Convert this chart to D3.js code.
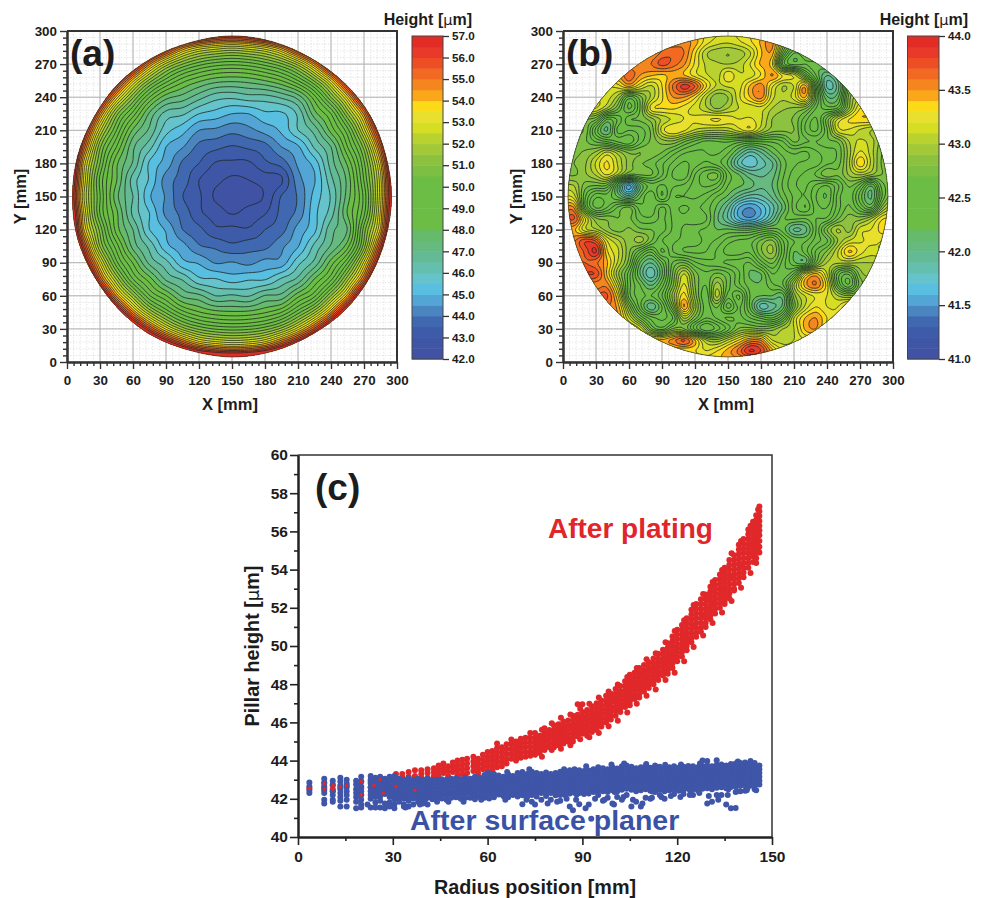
<!DOCTYPE html>
<html>
<head>
<meta charset="utf-8">
<script src="https://d3js.org/d3.v7.min.js"></script>
<style>
body { margin: 0; background: #fff; }
text { font-family: "Liberation Sans", Arial, sans-serif; font-weight: bold; fill: #1c1c1c; }
</style>
</head>
<body>
<main></main>
<script>
// colour bands shared by both maps, low to high
const bandColors = ["#3f52a3","#3f55a5","#3e5ba9","#3f68b1","#4a85c0","#52a5d4","#58bfe0","#64c3cb","#64bfae","#63ba94",
    "#66ba7f","#65ba6c","#6bbd45","#6bbd45","#6bbd45","#6bbd45","#6bbd45","#7cbf42","#8cc23f","#a3c93a",
    "#b9d22f","#d6de24","#e8e02c","#fbdb17","#fba71a","#f5861f","#f26a22","#ed4e24","#e8392a","#e42c26"];

const mapTicks = [0, 30, 60, 90, 120, 150, 180, 210, 240, 270, 300];
const barTicksA = [42, 43, 44, 45, 46, 47, 48, 49, 50, 51, 52, 53, 54, 55, 56, 57];
const barTicksB = [41, 41.5, 42, 42.5, 43, 43.5, 44];
const radiusTicks = [0, 30, 60, 90, 120, 150];
const pillarTicks = [40, 42, 44, 46, 48, 50, 52, 54, 56, 58, 60];

// wafer outline, radius in mm going round in equal angle steps
const rimA = [145,144.6,145.4,145,144.4,145,145.5,144.6,145,145.4,144.6,145,145,145.4,144.6,145,145.4,144.6,145.4,145,144.6,145.4,145,144.6];
const rimB = [145.4,145,145,145.4,145,144.7,145.4,145,145,144.7,145.4,145,145.4,145,145,145.4,144.7,145,145.4,145,145,144.7,145.4,145];

// height map (a), um, every 15 mm, rows from y=300 down to y=0
const heightsA = [
[70,70,70,70,69,65.9,62.9,60.6,59,58,57.7,58,59,60.6,62.9,65.9,69,70,70,70,70],
[70,70,70,67,63,59.7,57,54.6,53.4,52.9,52.6,52.9,53.4,54.6,57,59.7,63,67,70,70,70],
[70,70,67,62,58,54.6,52.3,51,50.2,49.75,49.6,49.75,50.2,50.9,52.2,54.5,58,62,67,70,70],
[70,68,62,57.3,53.7,51.3,49.75,48.7,48.1,47.7,47.6,47.7,48,48.5,49.5,51.1,53.5,57.3,62,68,70],
[70,63.5,58,53.8,51.1,49,47.7,47.3,46.7,46.2,46.1,46.3,46.3,46.6,47.2,48.8,51,53.7,58,63.5,70],
[66,60,54.8,51.2,49.3,47.4,46.3,46.1,45.5,45.3,45,45,45.4,45.4,46.1,47.8,49,51.5,54.6,60,66],
[63.5,57.3,52.6,50,47.9,46.9,45.7,45.2,44.5,44.4,44.15,44.35,44.7,45.1,46,46.7,48.2,49.8,52.8,57.3,63.5],
[61,55.4,51.1,49,47.1,46.2,45,44.55,43.85,43.65,43.45,43.6,43.8,44.5,44.9,46.1,47,49,51.2,55.3,61],
[59.7,53.9,50.5,48.1,46.95,45.4,44.8,43.9,43.5,42.95,42.9,42.9,43.4,43.7,44.6,45.2,46.75,48.1,50.4,53.9,59.7],
[58.8,53.5,49.85,48.05,46.25,45.45,44.25,43.8,43,42.65,42.4,42.5,42.7,42.9,44.3,44.95,46.35,47.65,50.05,53.3,58.8],
[58.5,53.1,50.05,47.65,46.5,45.05,44.45,43.5,43.1,42.4,42.3,42.3,42.55,43.55,44.05,45.2,46.05,47.75,49.65,53.3,58.5],
[59,53.6,49.95,48.15,46.35,45.5,44.35,43.85,43.1,42.8,42.45,42.7,42.95,43.65,44.15,45.35,46.25,48.05,49.85,53.6,59],
[60,54.1,50.85,48.25,47,45.5,44.95,44,43.65,43.1,43.15,43.05,43.5,43.8,44.7,45.35,46.85,47.5,50.75,54.1,60],
[61.5,55.9,51.45,49.25,47.3,46.35,45.15,44.7,44.05,43.9,43.6,43.8,43.85,44.4,44.95,46.15,47.05,48.3,51.25,55.9,61.5],
[64,57.9,53.35,50.15,48.45,46.85,46.2,45.15,44.95,44.45,44.55,44.35,44.7,44.7,45.85,46.65,48.25,49.95,53.15,57.9,64],
[67,60.8,55.4,51.95,49.5,48.25,46.9,46.45,45.6,45.55,45.25,45.45,45.45,46.1,46.65,48.05,49.35,51.85,55.25,60.8,67],
[70,64.7,59.1,54.4,51.7,49.55,48.55,47.4,47.15,46.5,46.6,46.45,47.05,47.15,48.35,49.35,51.55,54.25,59.1,64.7,70],
[70,69,63.5,58.5,54.6,52,50.4,49.2,48.55,48.2,48.1,48.15,48.45,49,50.3,51.9,54.5,58.5,63.5,69,70],
[70,70,68.5,63.5,59.2,55.8,53.4,51.8,50.9,50.45,50.3,50.4,50.8,51.7,53.3,55.7,59.1,63.5,68.5,70,70],
[70,70,70,69,65,61,58.3,56.2,54.6,54,53.7,53.9,54.5,56.1,58.2,61,65,69,70,70,70],
[70,70,70,70,70,67.7,64.7,62.3,60.7,59.7,59.5,59.7,60.7,62.3,64.7,67.7,70,70,70,70,70]
];

// height map (b), um, every 10 mm, rows from y=300 down to y=0
const heightsB = [
[43.31,43.31,43.31,43.31,43.31,43.31,43.31,43.31,43.31,43.31,43.42,43.45,43.35,43.25,43.22,43.2,43.22,43.28,43.35,43.45,43.1,42.8,42.7,42.6,42.6,42.6,42.6,42.6,42.6,42.6,42.6],
[43.52,43.52,43.52,43.52,43.52,43.52,43.52,43.52,43.52,43.52,43.52,43.55,43.45,43.25,43.15,43.12,43.18,43.28,43.42,43.55,43.02,42.72,42.62,42.6,42.6,42.6,42.6,42.6,42.6,42.6,42.6],
[43.5,43.5,43.5,43.5,43.5,43.5,43.5,43.5,43.5,43.62,43.68,43.6,43.32,43.02,42.93,42.9,42.94,43.08,43.38,43.46,42.75,42.3,42.42,42.6,42.6,42.6,42.6,42.6,42.6,42.6,42.6],
[43.5,43.5,43.5,43.5,43.5,43.5,43.5,43.55,43.6,43.74,43.65,43.52,43.28,43.08,43.02,43,43.04,43.2,43.42,43.32,42.45,42.26,42.3,42.25,42.4,42.6,42.6,42.6,42.6,42.6,42.6],
[43.5,43.5,43.5,43.5,43.5,43.5,43.68,43.5,43.42,43.38,43.44,43.4,43.24,43.12,43.05,43.28,43.12,43.14,43.3,43.52,43.28,43.15,42.72,42.3,42,42.25,42.8,43,43,43,43],
[43.2,43.2,43.2,43.2,43.2,43.25,43.42,43.22,43.08,43.3,43.62,43.85,43.7,43.32,43.08,43.12,43.15,43.42,43.56,43.22,43,43.1,43.48,42.6,41.88,42.05,42.7,43.05,43.2,43.2,43.2],
[43.2,43.2,43.2,43.2,43.15,42.95,42.55,42.75,43.02,43.28,43.5,43.5,43.32,43.02,42.82,42.9,43.18,43.4,43.55,43.15,43.02,43.15,43.42,42.68,42.12,42.18,42.85,43.12,43.2,43.2,43.2],
[43.2,43.2,43.2,43.2,43,42.72,42.38,42.7,43.25,43.3,43.32,43.25,43.15,43.02,42.88,43,43.1,43.12,43.15,43,42.92,42.88,42.82,42.5,42.35,42.42,42.9,43.3,43.3,43.3,43.3],
[42.8,42.8,42.8,42.72,42.3,42.42,42.68,42.72,42.85,43.02,43.12,43.2,43.22,43.28,43.32,43.25,43.2,43.22,43.12,42.9,42.82,42.78,42.55,42.38,42.75,43.12,43.3,43.38,43.38,43.3,43.3],
[42.8,42.8,42.78,42.35,42.08,42.55,42.5,42.55,42.72,43.15,43.3,43.22,43.08,43.02,43,43.02,43.15,43.25,43.02,42.85,42.82,42.8,42.5,42.38,42.68,43.15,43.18,43.08,43,42.9,42.9],
[42.8,42.8,42.72,42.58,42.48,42.38,42.32,42.55,42.72,42.85,42.88,42.72,42.58,42.48,42.5,42.52,42.45,42.4,42.42,42.42,42.5,42.72,42.62,42.6,42.68,42.72,43,43.12,43.05,42.85,42.8],
[42.8,42.78,42.82,42.92,43.12,42.95,42.78,42.8,42.78,42.7,42.55,42.42,42.38,42.4,42.42,42.32,42.08,41.88,42,42.2,42.35,42.42,42.38,42.48,42.55,42.62,42.95,43.22,43.05,42.8,42.78],
[42.75,42.8,42.88,43.12,43.32,43.08,42.85,42.72,42.65,42.52,42.38,42.28,42.35,42.42,42.35,42.18,41.85,41.72,41.85,41.98,42.25,42.38,42.42,42.45,42.58,42.65,42.98,43.38,43.08,42.78,42.75],
[42.8,42.78,42.88,43.02,43.22,43,42.7,42.72,42.72,42.52,42.28,42.22,42.5,42.68,42.72,42.35,42.2,42.02,41.98,42.05,42.28,42.45,42.52,42.62,42.78,42.72,42.92,43.02,42.92,42.8,42.78],
[43.02,43,42.75,42.7,42.68,42.1,41.55,42.1,42.35,42.28,42.38,42.42,42.55,42.62,42.55,42.3,42.22,42.15,42.02,42.1,42.32,42.48,42.52,42.38,42.3,42.48,42.72,42.55,42.2,42.65,42.75],
[43.22,43.15,42.62,42.32,42.35,42.18,41.95,42.28,42.5,42.2,42.48,42.5,42.52,42.45,42.3,42.18,41.98,41.85,41.88,42.02,42.25,42.42,42.5,42.3,42.2,42.55,42.68,42.35,42.08,42.6,42.9],
[43.5,43.5,42.65,42.28,42.4,42.62,42.72,42.45,42.42,42.62,42.45,42.38,42.42,42.35,42.18,41.95,41.6,41.5,41.62,41.85,42.12,42.45,42.6,42.35,42.3,42.55,42.72,42.5,42.3,42.85,43.12],
[43.62,43.72,43.22,42.82,42.78,42.7,42.72,42.55,42.52,42.62,42.48,42.42,42.5,42.42,42.12,41.9,41.62,41.52,41.68,41.95,42.28,42.32,42.3,42.4,42.42,42.68,42.85,42.85,43,43.28,43.32],
[43.4,43.42,43.12,43.02,42.85,42.75,42.82,42.72,42.7,42.65,42.48,42.38,42.32,42.28,42.2,42.22,42.18,42.18,42.28,42.35,42.25,41.98,42.05,42.4,42.8,43.02,42.85,43.15,43.2,43.35,43.42],
[43.5,43.58,43.78,43.68,43.2,43.02,42.85,42.95,42.72,42.5,42.42,42.38,42.35,42.28,42.32,42.45,42.52,42.55,42.72,42.82,42.5,42.3,42.28,42.45,42.58,42.9,43.1,43.18,43.22,43.2,43.2],
[43.6,43.6,43.72,43.92,43.32,43.12,42.82,42.52,42.3,42.62,42.4,42.3,42.28,42.3,42.42,42.55,42.55,42.52,42.78,42.92,42.55,42.2,42.35,42.62,42.82,43.1,43.42,43.25,43.15,43.2,43.2],
[43.7,43.7,43.7,43.62,43.42,43.08,42.75,42.2,42,42.28,42.62,42.7,42.52,42.45,42.42,42.38,42.35,42.3,42.55,42.72,42.45,42.22,42.15,42.7,43,43.02,43.02,43,43,43,43],
[43.8,43.8,43.8,43.78,43.38,42.92,42.55,42.1,41.82,42.18,42.72,43.1,42.75,42.62,42.72,42.62,42.42,42.18,42.2,42.5,42.42,42.62,43.2,43.42,43.1,42.55,42.42,42.85,42.95,43,43],
[43.6,43.6,43.6,43.55,43.55,43.1,42.55,42.3,42.08,42.35,42.78,43.22,42.8,42.6,42.95,42.65,42.42,42.25,42.22,42.38,42.5,43,43.45,43.6,43.25,42.6,42.3,42.75,42.85,42.9,42.9],
[43.7,43.7,43.7,43.7,43.72,43.3,42.55,42.35,42.3,42.5,42.95,43.35,42.85,42.52,43.05,42.55,42.72,42.3,42.2,42.2,42.15,42.85,43.1,43.22,43.2,43,42.9,43,43.2,43.2,43.2],
[43.6,43.6,43.6,43.6,43.6,43.45,42.85,42.35,42.02,42.3,42.8,43.5,42.95,42.55,42.72,42.35,42.62,42.28,41.85,41.95,42.15,42.75,43.12,43.3,43.2,43.2,43.42,43.35,43.3,43.3,43.3],
[43.5,43.5,43.5,43.5,43.5,43.5,43.1,42.7,42.45,42.38,42.5,43.02,42.75,42.5,42.62,42.72,42.65,42.5,42.38,42.3,42.55,43.1,43.4,43.5,43.3,43.22,43.3,43.3,43.3,43.3,43.3],
[43.4,43.4,43.4,43.4,43.4,43.4,43.4,43.2,42.72,42.55,42.82,42.8,42.45,42.2,42.35,42.55,42.82,42.85,42.8,42.85,43,43.1,43.42,43.5,43.25,43.2,43.2,43.2,43.2,43.2,43.2],
[43.4,43.4,43.4,43.4,43.4,43.4,43.4,43.4,43.4,43.42,43.55,43.72,43.4,43,42.92,43.1,43.3,43.5,43.48,43.1,43.05,43.1,43.2,43.2,43.2,43.2,43.2,43.2,43.2,43.2,43.2],
[43.3,43.3,43.3,43.3,43.3,43.3,43.3,43.3,43.3,43.3,43.3,43.3,43.3,43.2,43.3,43.45,43.65,43.92,43.8,43.45,43.2,43.2,43.2,43.2,43.2,43.2,43.2,43.2,43.2,43.2,43.2],
[43.4,43.4,43.4,43.4,43.4,43.4,43.4,43.4,43.4,43.4,43.4,43.4,43.4,43.4,43.4,43.4,43.4,43.4,43.4,43.4,43.4,43.4,43.4,43.4,43.4,43.4,43.4,43.4,43.4,43.4,43.4]
];

// pillars after plating: each row is radius (mm) then the heights (um) read at that radius
const platedPillars = [
[3.6,42.55],[8.3,42.8,42.55],[11,42.7,42.5,42.4],[13.4,42.6],[15.4,42.7],[20,42.9,42.55,42.2],[23,42.9,42.6],[26,43,42.75,42.3],[28,42.9,42.4],
[31,43.3,43.05,42.7],[33,43.3,43.1,42.5],[35,43.4,43.15,42.8],[37,43.5,43.2,42.45],[39,43.5,43.3,43.1],[41,43.55,43.35,43.1],
[43,43.6,43.4,43.2],[44.5,43.75,43.5,43.25],[46,43.85,43.6,43.35],[47.5,43.7,43.45,43.2],[49,43.9,43.65,43.4],[50.5,44,43.75,43.5,43.25],
[52,44.05,43.8,43.55,43.3],[53.5,44.1,43.85,43.6,43.35],[55.5,44.2,43.95,43.7,43.45],[57,44.1,43.85,43.6,43.35],[58.5,44.3,44.05,43.8,43.55],
[60,44.45,44.2,43.95,43.7,43.45],[61.5,44.5,44.25,44,43.75,43.5],[63,44.9,44.65,44.4,44.15,43.9,43.65],[64.5,44.7,44.45,44.2,43.95,43.7],
[66,44.85,44.6,44.35,44.1,43.85],[67.5,45.1,44.85,44.6,44.35,44.1],[69,45,44.75,44.5,44.25,44],[70.5,45.15,44.9,44.65,44.4,44.15],
[72,45.2,44.95,44.7,44.45,44.2],[73.5,45.45,45.2,44.95,44.7,44.45,44.25],
[75,45.45,45.2,44.98,44.75,44.52,44.3],[76.5,45.3,45.08,44.85,44.62,44.4],[78,45.7,45.45,45.22,45,44.78,44.55],[79.5,45.6,45.38,45.15,44.92,44.7],
[81,45.85,45.6,45.38,45.15,44.92,44.7],[82.5,45.9,45.68,45.45,45.22,45,44.8],[84,46.05,45.8,45.58,45.35,45.12,44.9],[85.5,46.1,45.88,45.65,45.42,45.2,45],
[87,46.35,46.1,45.85,45.62,45.4,45.18,45],[88.5,46.95,46.4,46.18,45.95,45.72,45.5,45.28],[90,46.95,46.55,46.3,46.08,45.85,45.62,45.4],
[91.5,46.65,46.42,46.2,45.98,45.75,45.52,45.3],[93,46.85,46.6,46.38,46.15,45.92,45.7,45.5],[94.5,47,46.75,46.5,46.28,46.05,45.82,45.6],
[96,47.15,46.9,46.68,46.45,46.22,46,45.78],[97.5,47.4,47.15,46.9,46.68,46.45,46.22,46],[99,47.5,47.28,47.05,46.82,46.6,46.38,46.15],
[100.5,47.75,47.5,47.28,47.05,46.82,46.6,46.35],[102,47.9,47.65,47.42,47.2,46.98,46.75,46.55],[103.5,48.15,47.9,47.68,47.45,47.22,47,46.8],
[105,48.5,48.25,48,47.78,47.55,47.32,47.1,46.9],[106.5,48.6,48.35,48.12,47.9,47.68,47.45,47.22],[108,48.85,48.6,48.38,48.15,47.92,47.7,47.48,47.3],
[109.5,49,48.75,48.52,48.3,48.08,47.85,47.62],[111,49.15,48.9,48.68,48.45,48.22,48,47.8],[112.5,49.35,49.1,48.88,48.65,48.42,48.2,48],
[114,49.6,49.35,49.12,48.9,48.68,48.45,48.22],[115.5,49.8,49.55,49.32,49.1,48.88,48.65,48.45],[117,50.15,49.9,49.65,49.42,49.2,48.98,48.75,48.55],
[118.5,50.5,50.25,50,49.75,49.52,49.3,49.08,48.85],[120,50.85,50.6,50.35,50.1,49.88,49.65,49.42,49.2],[121.5,51.1,50.85,50.6,50.35,50.12,49.9,49.68,49.45],
[123,51.45,51.2,50.95,50.7,50.45,50.22,50,49.78],[124.5,51.9,51.65,51.4,51.15,50.9,50.65,50.42,50.2],[126,52.2,51.95,51.7,51.45,51.2,50.95,50.7,50.48],
[127.5,52.45,52.2,51.95,51.7,51.45,51.2,50.95,50.75],[129,52.7,52.45,52.2,51.95,51.7,51.45,51.2,51],[130.5,53.1,52.85,52.6,52.35,52.1,51.85,51.6,51.4],
[132,53.45,53.2,52.95,52.7,52.45,52.2,51.95,51.7],[133.5,53.75,53.5,53.25,53,52.75,52.5,52.25,52],[135,54.1,53.85,53.6,53.35,53.1,52.85,52.6,52.35,52.2],
[136.5,54.5,54.25,54,53.75,53.5,53.25,53,52.75,52.5],[138,54.75,54.5,54.25,54,53.75,53.5,53.25,53,52.9],[139.5,55.3,55.05,54.8,54.55,54.3,54.05,53.8,53.55,53.3],
[141,55.6,55.35,55.1,54.85,54.6,54.35,54.1,53.85,53.6],[142.5,56.1,55.85,55.6,55.35,55.1,54.85,54.6,54.35,54.1],[144,56.5,56.2,55.95,55.7,55.45,55.2,54.95,54.7,54.4],
[145,56.85,56.6,56.35,56.1,55.85,55.6,55.35,55.1,54.85,54.6,54.35],[146,57.3,57.05,56.8,56.55,56.3,56.05,55.8,55.5,55.2,54.9],
// edge and in-between pillars
[77.2,45.62,44.2,45.02],[80.3,45.95,44.55,45.28],[83.2,46.25,44.62,45.52],[86.2,46.42,44.8,45.75],[89.3,46.72,45.12,46.05],[92.2,46.98,45.22,46.1],
[95.2,47.3,45.45,46.4],[98.3,47.62,45.8,46.72],[101.2,47.98,46.08,47.15],[104.2,48.38,46.52,47.6],[107.2,48.85,46.98,48],[110.3,49.3,47.4,48.4],
[113.2,49.62,47.72,48.78],[116.3,50.2,48.22,49.3],[119.2,50.78,48.6,49.65],[122.2,51.35,49.2,50.28],[125.2,52.15,49.95,51.05],[128.2,52.72,50.55,51.62],
[131.2,53.35,51.2,52.25],[134.2,53.98,51.75,52.9],[137.2,54.85,52.35,53.62],[140.2,55.5,53.05,54.2],[143.2,56.3,53.82,55.25],[145.6,57.15,56.2,55]
];

// red pillars that show through the gaps at small radius
const platedSpecks = [[3.6,42.55],[8.3,42.8],[8.3,42.5],[11,42.5],[11.2,42.7],[13.4,42.62],[15.4,42.7],[20,42.9],[20,42.2],[24,42.7],[26,43],[27,42.3],[31,42.65],[37,42.45]];

// pillars after surface planer, same layout
const planedPillars = [
[3.6,42.85,42.65,42.45,42.3],[8.3,43.05,42.85,42.65,42.45,42.3,41.95,41.75],[11,42.95,42.75,42.4,42.2,41.95,41.85],[13.4,43.1,42.9,42.7,42.5,42.3,42.1,41.9,41.6],
[15.4,43,42.8,42.6,42.4,42.2,41.95,41.6],[18.4,42.95,42.75,42.5,42.3,42.1,41.85,41.5],[20,43.15,42.9,42.65,42.4,42.2,41.95,41.7,41.55],
[23,43.2,43,42.8,42.6,42.4,42.2,42,41.55],[24.5,43.1,42.9,42.7,42.5,42.3,42.1,41.8,41.55],[26,43.15,42.95,42.72,42.52,42.32,42.12,41.9,41.55],
[27.5,43.05,42.85,42.65,42.45,42.25,41.75,41.5],[29,43.15,42.95,42.7,42.5,42.3,42.1,41.8,41.6],[30.5,43.2,42.98,42.78,42.58,42.38,42.18,41.98,41.7,41.5],
[32,43.05,42.85,42.65,42.45,42.25,42.05,41.85],[33.5,43,42.8,42.6,42.4,42.2,42,41.7,41.6],[35,43.1,42.9,42.7,42.5,42.3,42.1,41.9,41.6],
[36.5,43,42.82,42.62,42.42,42.22,42.02,41.7],[38,43.05,42.85,42.65,42.45,42.25,42.05,41.85],[39.5,43,42.8,42.6,42.4,42.2,42,41.75],
[41,43.05,42.85,42.65,42.45,42.25,42.05,41.7],[42.5,42.98,42.78,42.58,42.38,42.18,41.98],[44,43,42.8,42.6,42.4,42.2,42,41.85],
[45.5,43.02,42.82,42.62,42.42,42.22,42.02],[47,43,42.8,42.6,42.4,42.2,41.95],[48.5,43.05,42.85,42.65,42.45,42.25,42.05],
[50,43.08,42.88,42.68,42.48,42.28,42.08],[51.5,43.02,42.82,42.62,42.42,42.22,42],[53,43.1,42.9,42.7,42.5,42.3,42.05],
[54.5,43.05,42.85,42.65,42.45,42.25,42.05],[56,43.15,42.95,42.75,42.55,42.35,42.15,41.98],[57.5,43.1,42.9,42.7,42.5,42.3,42.1],
[59,43.25,43.02,42.82,42.62,42.42,42.22,42.05],[60.5,43.2,43,42.8,42.6,42.4,42.2,42.02],[62,43.3,43.08,42.88,42.68,42.48,42.28,42.08],
[63.5,43.22,43.02,42.82,42.62,42.42,42.22],[65,43.15,42.95,42.75,42.55,42.35,42.15],[66.5,43.28,43.08,42.88,42.68,42.48,42.28,42.08],
[68,43.2,43,42.8,42.6,42.4,42.2],[69.5,43.35,43.12,42.92,42.72,42.52,42.32,42.12],[71,43.4,43.18,42.98,42.78,42.58,42.38,42.18,41.72],
[72.5,43.3,43.1,42.9,42.7,42.5,42.3,42.1],[74,43.42,43.2,43,42.8,42.6,42.4,42.2,41.85],[75.5,43.35,43.12,42.92,42.72,42.52,42.32,42.12],
[77,43.3,43.1,42.9,42.7,42.5,42.3,41.95],[78.5,43.38,43.15,42.95,42.75,42.55,42.35,42.15],[80,43.3,43.1,42.9,42.7,42.5,42.3,41.95],
[81.5,43.35,43.15,42.95,42.75,42.55,42.35,42.18],[83,43.42,43.2,43,42.8,42.6,42.4,42.2,41.9],[84.5,43.38,43.18,42.98,42.78,42.58,42.38,42.2],
[86,43.5,43.28,43.08,42.88,42.68,42.48,42.28,41.6],[87,41.4],[87.5,43.55,43.32,43.12,42.92,42.72,42.52,42.32],[89,43.5,43.3,43.1,42.9,42.7,42.5,42.3,41.72],
[90.5,43.45,43.25,43.05,42.85,42.65,42.45,42.25],[92,43.48,43.28,43.08,42.88,42.68,42.48,42.28,41.7],[92.8,40.95],[93.5,43.55,43.35,43.15,42.95,42.75,42.55,42.35],
[95,43.65,43.42,43.22,43.02,42.82,42.62,42.42,42.2],[96.5,43.6,43.4,43.2,43,42.8,42.6,42.4,41.9],[98,43.55,43.35,43.15,42.95,42.75,42.55,42.35,42.05],
[99.5,43.65,43.45,43.25,43.05,42.85,42.65,42.45,41.75],[101,43.58,43.38,43.18,42.98,42.78,42.58,42.38,42.1],[102.5,43.7,43.48,43.28,43.08,42.88,42.68,42.48,41.95],
[104,43.75,43.52,43.32,43.12,42.92,42.72,42.52,42.2],[105.5,43.68,43.48,43.28,43.08,42.88,42.68,42.48,41.6],[107,43.6,43.4,43.2,43,42.8,42.6,42.4,41.85],
[108.5,43.65,43.45,43.25,43.05,42.85,42.65,42.45,41.6],[110,43.72,43.5,43.3,43.1,42.9,42.7,42.5,42.05],[111.5,43.62,43.42,43.22,43.02,42.82,42.62,42.42,42],
[113,43.75,43.55,43.35,43.15,42.95,42.75,42.55,42.35],[114.5,43.68,43.48,43.28,43.08,42.88,42.68,42.48,42.2],[116,43.6,43.4,43.2,43,42.8,42.6,42.4,42],
[117.5,43.65,43.45,43.25,43.05,42.85,42.65,42.45],[119,43.7,43.5,43.3,43.1,42.9,42.7,42.5,42.25],[120.5,43.62,43.42,43.22,43.02,42.82,42.62,42.42],
[122,43.68,43.48,43.28,43.08,42.88,42.68,42.48,42.25],[123.5,43.72,43.52,43.32,43.12,42.92,42.72,42.52],[125,43.7,43.5,43.3,43.1,42.9,42.7,42.5,42.2],
[126.5,43.65,43.45,43.25,43.05,42.85,42.65,42.45],[128,44,43.72,43.52,43.32,43.12,42.92,42.72,42.52],[129.5,43.98,43.75,43.55,43.35,43.15,42.95,42.75,42.55,41.75],
[131,43.7,43.5,43.3,43.1,42.9,42.7,42.5,41.85],[132.5,44.02,43.78,43.58,43.38,43.18,42.98,42.78,42.58,42.2],[134,43.8,43.6,43.4,43.2,43,42.8,42.6,42.2],
[135.5,43.75,43.55,43.35,43.15,42.95,42.75,42.55,41.7],[137,43.82,43.62,43.42,43.22,43.02,42.82,42.62,41.5],[138.5,43.85,43.65,43.45,43.25,43.05,42.85,42.65,41.52,42.35],
[140,43.88,43.68,43.48,43.28,43.08,42.88,42.68,42.4],[141.5,43.9,43.7,43.5,43.3,43.1,42.9,42.7,42.42],[143,43.85,43.65,43.45,43.25,43.05,42.85,42.68],
[144.5,43.88,43.68,43.48,43.28,43.08,42.88,42.7,42.5],[146,43.75,43.55,43.35,43.15,42.95,42.75],
// edge and in-between pillars
[22,41.7],[34,41.55],[38.6,41.7],[47.6,41.85],[52.4,41.85],[58,41.95],[65.6,41.95],[72.3,41.95],[75,41.7],[79,41.75],[82,41.85],[85,42],[88,41.95],[91,41.5],[94,42],[97,41.95],
[100,41.7],[103,42.1],[106,41.95],[109,41.75],[112,42.05],[115,42.1],[118,42.15],[121,42.1],[124,42.2],[127,42.3],[130,42.15],[133,41.95],[136,42.2],[139,42.4],[142,42.45],[145,42.45],
[31.2,42.9,42.5,42.1],[40.2,42.75,42.35,41.95],[46.2,42.7,42.3],[52.3,42.95,42.55,42.15],[58.3,43,42.6,42.2],[64.2,43.05,42.65,42.25],[70.3,43.22,42.82,42.42],[76.2,43.25,42.85,42.45],
[82.2,43.28,42.88,42.48],[88.2,43.42,43.02,42.62,42.22],[94.2,43.38,42.98,42.58],[100.2,43.55,43.15,42.75,42.35],[106.2,43.5,43.1,42.7],[112.2,43.58,43.18,42.78,42.38],[118.2,43.55,43.15,42.75],
[124.2,43.6,43.2,42.8,42.4],[130.2,43.62,43.22,42.82],[136.2,43.7,43.3,42.9,42.5],[142.2,43.75,43.35,42.95,42.55],
[60.2,43.35],[66.2,43.4],[73.2,43.55],[84.2,43.55],[91.2,43.7],[99.2,43.8],[103.2,43.85],[110.2,43.82],[116.2,43.78],[121.2,43.8],[127.2,43.85],[139.2,43.95],[143.2,43.98]
];

const svg = d3.select("main")
    .append("svg")
    .attr("width", 988)
    .attr("height", 898);

// cubic through the read values so the contour lines come out round, the typed values stay on the surface
const cubicPoint = (p0, p1, p2, p3, t) =>
    p1 + 0.5 * t * (p2 - p0 + t * (2 * p0 - 5 * p1 + 4 * p2 - p3 + t * (3 * (p1 - p2) + p3 - p0)));

const refineLine = (line, k) => {
    const out = [];
    const at = i => line[Math.max(0, Math.min(line.length - 1, i))];
    for (let i = 0; i < line.length - 1; i++) {
        for (let s = 0; s < k; s++) out.push(cubicPoint(at(i - 1), at(i), at(i + 1), at(i + 2), s / k));
    }
    out.push(line[line.length - 1]);
    return out;
};

const refineGrid = (rows, k) => {
    const wide = rows.map(r => refineLine(r, k));
    const columns = d3.range(wide[0].length).map(c => refineLine(wide.map(r => r[c]), k));
    return d3.range(columns[0].length).map(r => columns.map(c => c[r]));
};

const createMap = (id, box, heights, step, levels, rim, barTicks, barBox, barFormat, tag, tagX) => {
    const xScale = d3.scaleLinear().domain([0, 300]).range([box.left, box.right]);
    const yScale = d3.scaleLinear().domain([0, 300]).range([box.bottom, box.top]);
    const g = svg.append("g").attr("id", id);

    // background grid, light dots every 6 mm and grey lines every 30 mm
    const fine = d3.range(0, 301, 6);
    g.selectAll(".fx").data(fine).join("line")
        .attr("x1", d => xScale(d)).attr("x2", d => xScale(d))
        .attr("y1", box.top).attr("y2", box.bottom)
        .attr("stroke", "#dcdcdc").attr("stroke-width", 0.7).attr("stroke-dasharray", "1.5 1.5");
    g.selectAll(".fy").data(fine).join("line")
        .attr("y1", d => yScale(d)).attr("y2", d => yScale(d))
        .attr("x1", box.left).attr("x2", box.right)
        .attr("stroke", "#dcdcdc").attr("stroke-width", 0.7).attr("stroke-dasharray", "1.5 1.5");
    g.selectAll(".mx").data(mapTicks).join("line")
        .attr("x1", d => xScale(d)).attr("x2", d => xScale(d))
        .attr("y1", box.top).attr("y2", box.bottom)
        .attr("stroke", "#b0b0b0").attr("stroke-width", 1);
    g.selectAll(".my").data(mapTicks).join("line")
        .attr("y1", d => yScale(d)).attr("y2", d => yScale(d))
        .attr("x1", box.left).attr("x2", box.right)
        .attr("stroke", "#b0b0b0").attr("stroke-width", 1);

    // wafer outline used as clip
    const rimPath = d3.line()
        .x((r, i) => xScale(150 + r * Math.cos(i / rim.length * 2 * Math.PI)))
        .y((r, i) => yScale(150 + r * Math.sin(i / rim.length * 2 * Math.PI)))
        .curve(d3.curveCatmullRomClosed)(rim);
    g.append("clipPath").attr("id", id + "-clip").append("path").attr("d", rimPath);

    // filled bands and contour lines
    const k = 4;
    const surface = refineGrid(heights, k);
    const fineStep = step / k;
    const contours = d3.contours().size([surface[0].length, surface.length]).thresholds(levels)(surface.flat());
    const ring = d3.line()
        .x(p => xScale((p[0] - 0.5) * fineStep))
        .y(p => yScale(300 - (p[1] - 0.5) * fineStep))
        .curve(d3.curveBasisClosed);
    const contourPath = c => c.coordinates.map(poly => poly.map(r => ring(r.slice(0, -1))).join("")).join("");

    const wafer = g.append("g").attr("clip-path", `url(#${id}-clip)`);
    wafer.selectAll(".band").data(contours).join("path")
        .attr("d", contourPath)
        .attr("fill", (c, i) => bandColors[i])
        .attr("fill-rule", "evenodd");
    wafer.selectAll(".line").data(contours.slice(1)).join("path")
        .attr("d", contourPath)
        .attr("fill", "none")
        .attr("stroke", "#1d2a22")
        .attr("stroke-width", 0.8);
    g.append("path").attr("d", rimPath).attr("fill", "none").attr("stroke", "#3a2e22").attr("stroke-width", 0.7);

    // axes
    const minorTicks = fine.filter(d => d % 30 !== 0);
    const styleAxis = a => {
        a.selectAll("path").attr("stroke", "#333").attr("stroke-width", 2);
        a.selectAll("line").attr("stroke", "#333").attr("stroke-width", 1.4);
        a.selectAll("text").attr("font-size", 13.4).attr("fill", "#1c1c1c");
    };
    g.append("g").attr("transform", `translate(0,${box.bottom})`)
        .call(d3.axisBottom(xScale).tickValues(minorTicks).tickSize(4).tickFormat("").tickSizeOuter(0)).call(styleAxis);
    g.append("g").attr("transform", `translate(${box.left},0)`)
        .call(d3.axisLeft(yScale).tickValues(minorTicks).tickSize(4).tickFormat("").tickSizeOuter(0)).call(styleAxis);
    g.append("g").attr("transform", `translate(0,${box.bottom})`)
        .call(d3.axisBottom(xScale).tickValues(mapTicks).tickSize(7).tickPadding(6).tickSizeOuter(0)).call(styleAxis);
    g.append("g").attr("transform", `translate(${box.left},0)`)
        .call(d3.axisLeft(yScale).tickValues(mapTicks).tickSize(7).tickPadding(3).tickSizeOuter(0)).call(styleAxis);
    g.append("path")
        .attr("d", `M${box.left},${box.top}H${box.right}V${box.bottom}`)
        .attr("fill", "none").attr("stroke", "#333").attr("stroke-width", 2);

    g.append("text").attr("x", (box.left + box.right) / 2 - 2).attr("y", 410)
        .attr("text-anchor", "middle").attr("font-size", 16.5).text("X [mm]");
    g.append("text")
        .attr("transform", `translate(${box.left - 41},${(box.top + box.bottom) / 2}) rotate(-90)`)
        .attr("text-anchor", "middle").attr("font-size", 16.5).text("Y [mm]");
    g.append("text").attr("x", tagX).attr("y", 66)
        .attr("font-size", 37).attr("fill", "#333").text(tag);

    // colour bar
    const bandStep = levels[1] - levels[0];
    const barScale = d3.scaleLinear().domain([levels[0], levels[levels.length - 1] + bandStep]).range([barBox.bottom, barBox.top]);
    g.selectAll(".swatch").data(levels).join("rect")
        .attr("x", barBox.left)
        .attr("width", barBox.right - barBox.left)
        .attr("y", d => barScale(d + bandStep))
        .attr("height", d => barScale(d) - barScale(d + bandStep) + 0.5)
        .attr("fill", (d, i) => bandColors[i]);
    g.append("rect")
        .attr("x", barBox.left).attr("y", barBox.top)
        .attr("width", barBox.right - barBox.left).attr("height", barBox.bottom - barBox.top)
        .attr("fill", "none").attr("stroke", "#444").attr("stroke-width", 1);
    const barAxis = g.append("g").attr("transform", `translate(${barBox.right},0)`)
        .call(d3.axisRight(barScale).tickValues(barTicks).tickSize(6).tickPadding(3).tickFormat(barFormat).tickSizeOuter(0));
    barAxis.select(".domain").remove();
    barAxis.selectAll("line").attr("stroke", "#333").attr("stroke-width", 1.3);
    barAxis.selectAll("text").attr("font-size", 11.7).attr("fill", "#1c1c1c");
    const title = g.append("text").attr("x", barBox.right + 29).attr("y", 25)
        .attr("text-anchor", "end").attr("font-size", 16);
    title.append("tspan").text("Height [");
    title.append("tspan").attr("font-family", "DejaVu Sans").attr("font-weight", "normal").attr("font-size", 14.5).text("\u03bc");
    title.append("tspan").text("m]");
};

const createScatter = () => {
    const box = { left: 298, right: 772, top: 455, bottom: 837 };
    const xScale = d3.scaleLinear().domain([0, 150]).range([box.left, box.right]);
    const yScale = d3.scaleLinear().domain([40, 60]).range([box.bottom, box.top]);
    const g = svg.append("g").attr("id", "scatter");

    const flatten = rows => rows.flatMap(row => row.slice(1).map(h => [row[0], h]));
    const drawPoints = (points, color, size) => {
        g.append("g").selectAll("circle").data(points).join("circle")
            .attr("cx", d => xScale(d[0]))
            .attr("cy", d => yScale(d[1]))
            .attr("r", size)
            .attr("fill", color);
    };

    g.append("text").attr("x", 410).attr("y", 830).attr("font-size", 28.5)
        .style("fill", "#3a52a6").text("After surface planer");
    g.append("text").attr("x", 548).attr("y", 538).attr("font-size", 28)
        .style("fill", "#e0262b").text("After plating");
    g.append("text").attr("x", 315).attr("y", 500).attr("font-size", 37)
        .attr("fill", "#333").text("(c)");

    drawPoints(flatten(platedPillars), "#e0282a", 3);
    drawPoints(flatten(planedPillars), "#3f55a8", 3);
    drawPoints(platedSpecks, "#e0282a", 1.8);

    const styleAxis = a => {
        a.selectAll("path").attr("stroke", "#222").attr("stroke-width", 2);
        a.selectAll("line").attr("stroke", "#222").attr("stroke-width", 1.6);
        a.selectAll("text").attr("font-size", 15.5).attr("fill", "#1c1c1c");
    };
    g.append("g").attr("transform", `translate(0,${box.bottom})`)
        .call(d3.axisBottom(xScale).tickValues([15, 45, 75, 105, 135]).tickSize(4).tickFormat("").tickSizeOuter(0)).call(styleAxis);
    g.append("g").attr("transform", `translate(${box.left},0)`)
        .call(d3.axisLeft(yScale).tickValues(d3.range(41, 60, 2)).tickSize(4).tickFormat("").tickSizeOuter(0)).call(styleAxis);
    g.append("g").attr("transform", `translate(0,${box.bottom})`)
        .call(d3.axisBottom(xScale).tickValues(radiusTicks).tickSize(8).tickPadding(6).tickSizeOuter(0)).call(styleAxis);
    g.append("g").attr("transform", `translate(${box.left},0)`)
        .call(d3.axisLeft(yScale).tickValues(pillarTicks).tickSize(8).tickPadding(2).tickSizeOuter(0)).call(styleAxis);
    g.append("path")
        .attr("d", `M${box.left},${box.top}H${box.right}V${box.bottom}`)
        .attr("fill", "none").attr("stroke", "#333").attr("stroke-width", 1.5);

    g.append("text").attr("x", 535).attr("y", 894)
        .attr("text-anchor", "middle").attr("font-size", 19.8).text("Radius position [mm]");
    const label = g.append("text")
        .attr("transform", "translate(259,646) rotate(-90)")
        .attr("text-anchor", "middle").attr("font-size", 19.8);
    label.append("tspan").text("Pillar height [");
    label.append("tspan").attr("font-family", "DejaVu Sans").attr("font-weight", "normal").attr("font-size", 18).text("\u03bc");
    label.append("tspan").text("m]");
};

const driver = () => {
    const levelsA = d3.range(30).map(i => 42 + i * 0.5);
    const levelsB = d3.range(30).map(i => 41 + i * 0.1);
    createMap("mapA", { left: 67, right: 397, top: 31, bottom: 362 }, heightsA, 15, levelsA, rimA,
        barTicksA, { left: 412, right: 443, top: 36, bottom: 359 }, d3.format(".1f"), "(a)", 70);
    createMap("mapB", { left: 563, right: 893, top: 31, bottom: 362 }, heightsB, 10, levelsB, rimB,
        barTicksB, { left: 907.5, right: 939, top: 36, bottom: 359 }, d3.format(".1f"), "(b)", 566);
    createScatter();
};

driver();
</script>
</body>
</html>
